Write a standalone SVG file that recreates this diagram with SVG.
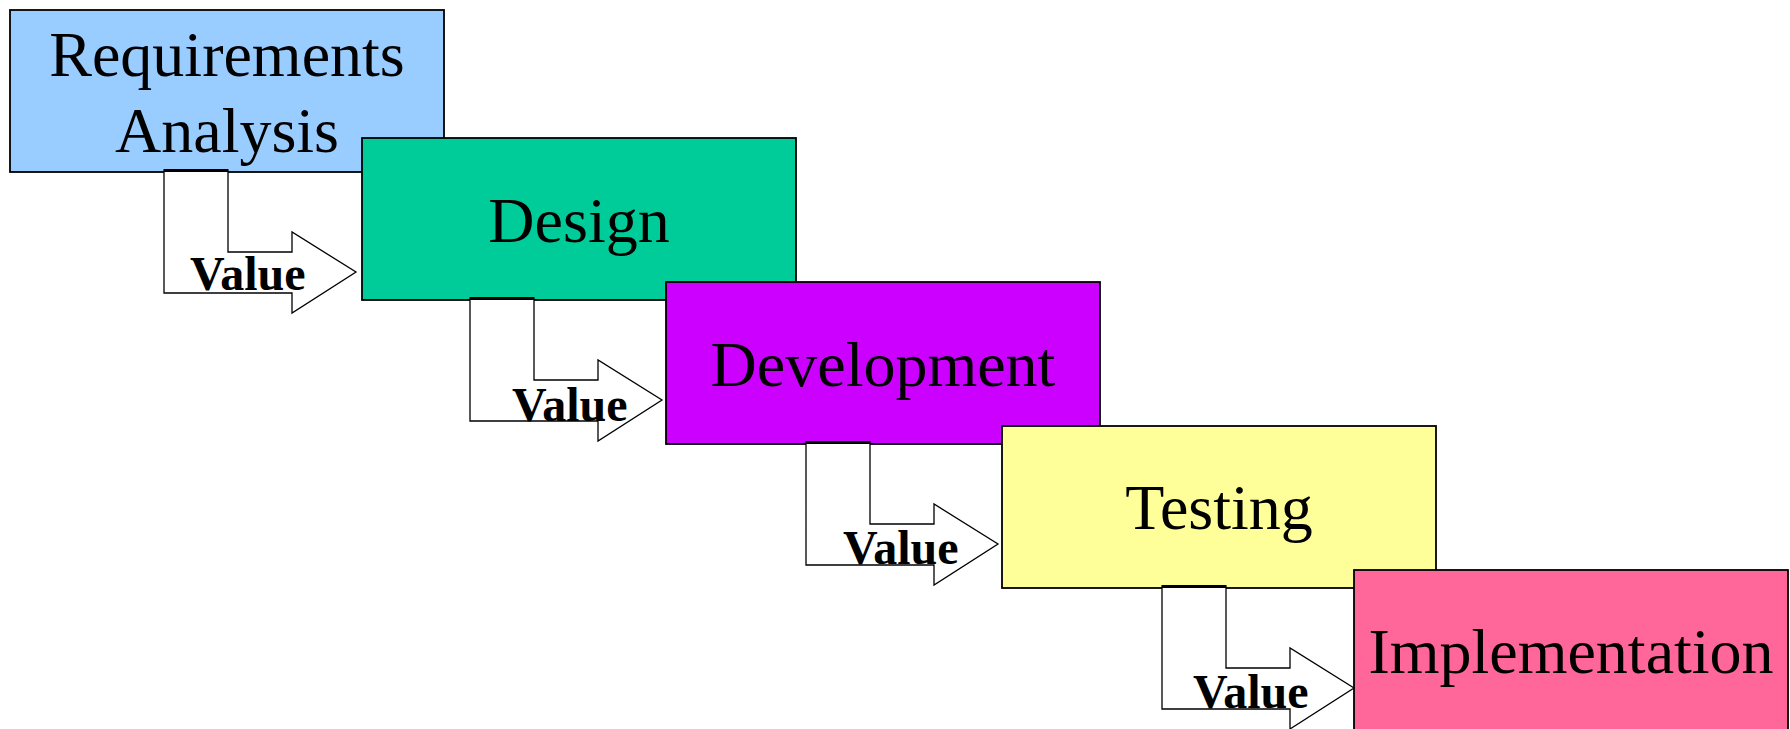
<svg xmlns="http://www.w3.org/2000/svg" width="1790" height="729" viewBox="0 0 1790 729">
<style>
.box{stroke:#000;stroke-width:1.8}
.t{font-family:"Liberation Serif","Times New Roman",serif;font-size:64px;fill:#000;text-anchor:middle}
.arr{fill:#fff;stroke:#000;stroke-width:1.3;stroke-linejoin:miter}
.top{stroke:#000;stroke-width:3}
.v{font-family:"Liberation Serif","Times New Roman",serif;font-size:48px;font-weight:bold;fill:#000}
</style>
<rect width="1790" height="729" fill="#fff"/>
<g id="req">
<rect class="box" x="10" y="10" width="434" height="162" fill="#99CCFF"/>
<text class="t" x="227" y="76">Requirements</text>
<text class="t" x="227" y="152">Analysis</text>
</g>
<g id="design">
<rect class="box" x="362" y="138" width="434" height="162" fill="#00CC99"/>
<text class="t" x="579" y="242">Design</text>
</g>
<g id="development">
<rect class="box" x="666" y="282" width="434" height="162" fill="#CC00FF"/>
<text class="t" x="883" y="386">Development</text>
</g>
<g id="testing">
<rect class="box" x="1002" y="426" width="434" height="162" fill="#FFFF99"/>
<text class="t" x="1219" y="529">Testing</text>
</g>
<g id="implementation">
<rect class="box" x="1354" y="570" width="434" height="162" fill="#FF6699"/>
<text class="t" x="1571" y="673">Implementation</text>
</g>
<g id="connectors">
<g id="arrow1" transform="translate(164,170)">
<polygon class="arr" points="0,0 64,0 64,82 128,82 128,62 192,102 128,143 128,123 0,123"/>
<line class="top" x1="0" y1="0.5" x2="64" y2="0.5"/>
</g>
<text class="v" x="190" y="290">Value</text>
<g id="arrow2" transform="translate(470,298)">
<polygon class="arr" points="0,0 64,0 64,82 128,82 128,62 192,102 128,143 128,123 0,123"/>
<line class="top" x1="0" y1="0.5" x2="64" y2="0.5"/>
</g>
<text class="v" x="512" y="421">Value</text>
<g id="arrow3" transform="translate(806,442)">
<polygon class="arr" points="0,0 64,0 64,82 128,82 128,62 192,102 128,143 128,123 0,123"/>
<line class="top" x1="0" y1="0.5" x2="64" y2="0.5"/>
</g>
<text class="v" x="843" y="564">Value</text>
<g id="arrow4" transform="translate(1162,586)">
<polygon class="arr" points="0,0 64,0 64,82 128,82 128,62 192,102 128,143 128,123 0,123"/>
<line class="top" x1="0" y1="0.5" x2="64" y2="0.5"/>
</g>
<text class="v" x="1193" y="708">Value</text>
</g>
</svg>
